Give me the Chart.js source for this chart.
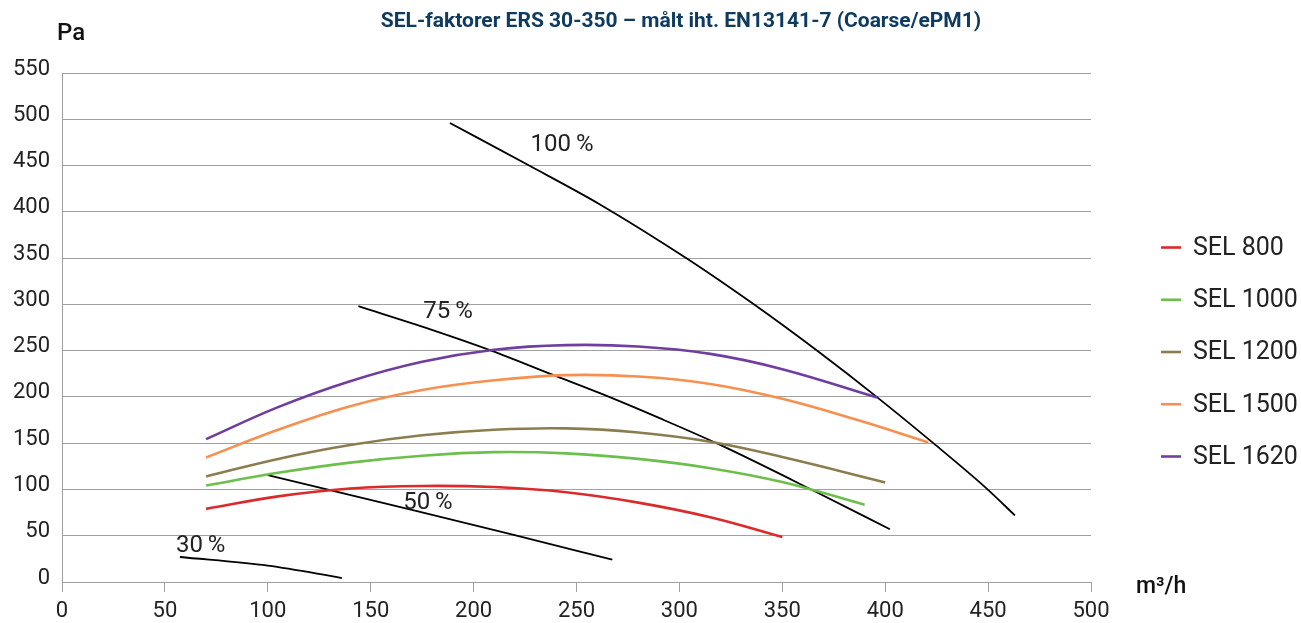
<!DOCTYPE html>
<html>
<head>
<meta charset="utf-8">
<script src="https://cdn.jsdelivr.net/npm/chart.js@4"></script>
<style>
  html, body { margin: 0; padding: 0; background: #fff; }
  #wrap { width: 1301px; height: 623px; position: relative; }
</style>
</head>
<body>
<div id="wrap"><canvas id="selchart"></canvas></div>
<script>
// Chart texts
const titleText = "SEL-faktorer ERS 30-350 \u2013 m\u00e5lt iht. EN13141-7 (Coarse/ePM1)";
const yUnit = "Pa";
const xUnit = "m\u00b3/h";

// SEL curves, [m3/h, Pa]
const sel800 = [[70, 79], [105, 92.5], [140, 101], [175, 103.8], [210, 102.6], [245, 97], [280, 85.8], [315, 70], [350, 48.6]];
const sel1000 = [[70, 104.3], [105, 118], [140, 129], [175, 136.5], [210, 140.3], [245, 139], [280, 133], [315, 123], [350, 108], [390, 83.5]];
const sel1200 = [[70, 114], [105, 133], [140, 148], [175, 158.5], [210, 164.5], [245, 166], [280, 161.5], [315, 151.5], [350, 135], [400, 107.6]];
const sel1500 = [[70, 134.6], [105, 164.5], [140, 190], [175, 207.5], [210, 218], [245, 223.5], [280, 222], [315, 214], [350, 198], [385, 176], [421, 150.8]];
const sel1620 = [[70, 154.4], [105, 189], [140, 217], [175, 238], [210, 251], [245, 256], [280, 254.5], [315, 246.5], [350, 230], [396, 199.4]];

// fan speed lines
const fan100 = [[188.5, 496], [227, 450], [261.4, 408], [304, 349], [336, 300.3], [367, 249.8], [396, 199.8], [423.4, 150], [449.6, 100.4], [463, 72]];
const fan75 = [[144, 298], [179, 273], [208.6, 250], [238.3, 224], [261.4, 204], [290.4, 177], [318, 150], [366.7, 97], [402.3, 57]];
const fan50 = [[100, 115.5], [171, 77.3], [219, 51.1], [267.4, 24.1]];
const fan30 = [[57.3, 27], [100, 17.6], [136, 4.3]];

// labels on the fan lines and where they sit (data coords)
const fanLabels = ["100\u2009%", "75\u2009%", "50\u2009%", "30\u2009%"];
const fanLabelAt = [[243, 472], [187.6, 292], [177.8, 85.8], [67.4, 38.4]];

const selNames = ["SEL 800", "SEL 1000", "SEL 1200", "SEL 1500", "SEL 1620"];
const selColors = ["#dc2a2a", "#6cbf4c", "#8c7d50", "#f7904e", "#6f3e9f"];

const xTicks = { min: 0, max: 500, step: 50 };
const yTicks = { min: 0, max: 550, step: 50 };

const toXY = (arr) => arr.map((p) => ({ x: p[0], y: p[1] }));

Chart.defaults.font.family = "Roboto";
Chart.defaults.color = "#222";

const datasets = [];
[sel800, sel1000, sel1200, sel1500, sel1620].forEach((d, i) => {
  datasets.push({
    label: selNames[i],
    data: toXY(d),
    borderColor: selColors[i],
    borderWidth: 2.6,
    pointRadius: 0,
    tension: 0.4,
    isSel: true,
  });
});
[fan100, fan75, fan50, fan30].forEach((d, i) => {
  datasets.push({
    label: fanLabels[i],
    data: toXY(d),
    borderColor: "#000",
    borderWidth: 1.8,
    pointRadius: 0,
    cubicInterpolationMode: "monotone",
  });
});

// titles, unit names, fan labels and the legend
const textPlugin = {
  id: "texts",
  afterDraw(chart) {
    const ctx = chart.ctx;
    const xs = chart.scales.x;
    const ys = chart.scales.y;
    ctx.save();

    ctx.font = "bold 21px Roboto";
    ctx.fillStyle = "#0e3b60";
    ctx.textAlign = "center";
    ctx.textBaseline = "middle";
    ctx.fillText(titleText, 681, 22);

    ctx.font = "500 24px Roboto";
    ctx.fillStyle = "#111";
    ctx.textAlign = "left";
    ctx.fillText(yUnit, 57, 34);
    ctx.font = "500 23px Roboto";
    ctx.fillText(xUnit, 1136, 587);

    ctx.font = "24px Roboto";
    ctx.fillStyle = "#222";
    ctx.textAlign = "center";
    fanLabels.forEach((t, i) => {
      ctx.fillText(t, xs.getPixelForValue(fanLabelAt[i][0]), ys.getPixelForValue(fanLabelAt[i][1]));
    });

    // legend
    ctx.font = "25px Roboto";
    ctx.textAlign = "left";
    chart.data.datasets.forEach((ds, i) => {
      if (!ds.isSel) return;
      const yy = 247.5 + i * 52.25;
      ctx.strokeStyle = ds.borderColor;
      ctx.lineWidth = 2.6;
      ctx.beginPath();
      ctx.moveTo(1161, yy);
      ctx.lineTo(1181, yy);
      ctx.stroke();
      ctx.fillStyle = "#222";
      ctx.fillText(ds.label, 1193, yy + 1);
    });
    ctx.restore();
  },
};

const selchart = new Chart(document.getElementById("selchart"), {
  type: "line",
  data: { datasets: datasets },
  plugins: [textPlugin],
  options: {
    responsive: true,
    maintainAspectRatio: false,
    animation: false,
    layout: { padding: { top: 73, right: 210, left: 0, bottom: 0 } },
    plugins: {
      legend: { display: false },
      tooltip: { enabled: false },
    },
    scales: {
      x: {
        type: "linear",
        min: xTicks.min,
        max: xTicks.max,
        afterFit: (scale) => { scale.height = 41; },
        ticks: { stepSize: xTicks.step, font: { size: 22 }, padding: 6, maxRotation: 0 },
        grid: { drawOnChartArea: false, tickLength: 10, color: "#a0a0a0" },
        border: { color: "#a0a0a0" },
      },
      y: {
        min: yTicks.min,
        max: yTicks.max,
        afterFit: (scale) => { scale.width = 62; },
        ticks: { stepSize: yTicks.step, font: { size: 22 }, padding: 12, labelOffset: -4 },
        grid: { drawTicks: false, color: "#a0a0a0" },
        border: { color: "#a0a0a0" },
      },
    },
  },
});
</script>
</body>
</html>
